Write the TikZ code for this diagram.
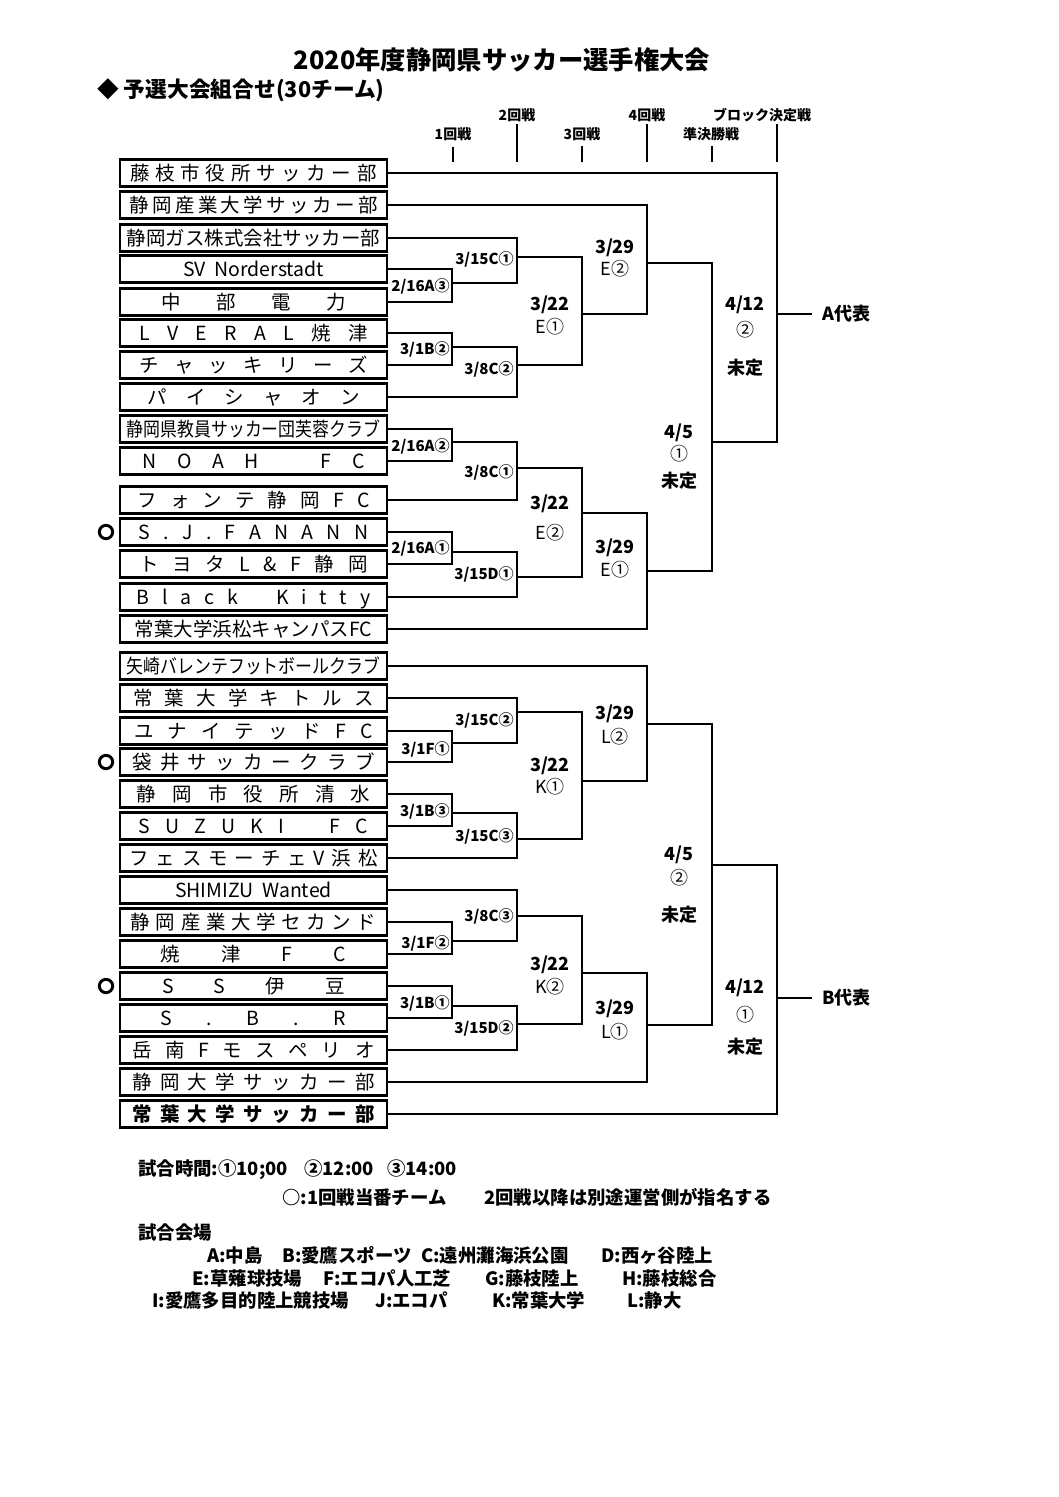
\documentclass[tikz,border=0pt]{standalone}
\usepackage{fontspec}
\usepackage{graphicx}
\setmainfont{Noto Sans CJK JP}
\newcommand\fsz[1]{\fontsize{#1}{#1}\selectfont}
\ExplSyntaxOn
\NewDocumentCommand \spreadtxt { m m }
  { \makebox [ #1 ] [ s ] { \tl_map_inline:nn { #2 } { ##1 \hfill } \unskip } }
\ExplSyntaxOff
\tikzset{
  team/.style={draw, line width=1.6pt, minimum width=200.25pt, minimum height=20.25pt,
    inner sep=0pt, font=\fsz{14.6pt}, text height=12.8pt, text depth=1.5pt},
  br/.style={line width=2.1pt},
  mlab/.style={font=\bfseries\fsz{11.3pt}, inner sep=0pt, anchor=east, text height=9pt, text depth=0.5pt},
  rlab/.style={font=\bfseries\fsz{13.5pt}, inner sep=0pt, text height=10.8pt, text depth=0.5pt},
  vlab/.style={font=\fsz{13.5pt}, inner sep=0pt, text height=10.8pt, text depth=0.5pt},
  hlab/.style={font=\bfseries\fsz{10.5pt}, inner sep=0pt, text height=8.4pt, text depth=0.4pt},
  tickthin/.style={line width=0.8pt},
  tickthick/.style={line width=1.6pt},
  foot/.style={font=\bfseries\fsz{13.8pt}, inner sep=0pt, anchor=west, text height=11pt, text depth=0.5pt},
  duty/.style={circle, draw, line width=2.2pt, minimum size=10pt, inner sep=0pt},
}
\begin{document}
\begin{tikzpicture}[x=0.75pt,y=-0.75pt]
\fill[white] (0,0) rectangle (1058,1497);
\useasboundingbox (0,0) rectangle (1058,1497);

% ---- titles
\node[font=\bfseries\fsz{19pt}, inner sep=0pt] (title) at (502,60) {2020年度静岡県サッカー選手権大会};
\node[font=\bfseries\fsz{16.3pt}, inner sep=0pt, anchor=west] (subtitle) at (97,90) {◆ 予選大会組合せ(30チーム)};

% ---- round headers
\node[hlab] (h2) at (517,115) {2回戦};
\node[hlab] (h4) at (647,115) {4回戦};
\node[hlab] (hb) at (762,115) {ブロック決定戦};
\node[hlab] (h1) at (453,134) {1回戦};
\node[hlab] (h3) at (582,134) {3回戦};
\node[hlab] (hs) at (711,134) {準決勝戦};
\coordinate (k1a) at (453,147); \coordinate (k1b) at (453,162);
\coordinate (k2a) at (517,124); \coordinate (k2b) at (517,162);
\coordinate (k3a) at (582,146); \coordinate (k3b) at (582,162);
\coordinate (k4a) at (647,124); \coordinate (k4b) at (647,162);
\coordinate (k5a) at (712,146); \coordinate (k5b) at (712,162);
\coordinate (k6a) at (777,124); \coordinate (k6b) at (777,162);
\draw[tickthin] (k1a) -- (k1b);
\draw[tickthick] (k2a) -- (k2b);
\draw[tickthin] (k3a) -- (k3b);
\draw[tickthick] (k4a) -- (k4b);
\draw[tickthin] (k5a) -- (k5b);
\draw[tickthin] (k6a) -- (k6b);

% ---- teams
\node[team] (t1) at (253.5,173) {\spreadtxt{184.5pt}{藤枝市役所サッカー部}};
\node[team] (t2) at (253.5,205) {\spreadtxt{186pt}{静岡産業大学サッカー部}};
\node[team] (t3) at (253.5,238) {静岡ガス株式会社サッカー部};
\node[team] (t4) at (253.5,269) {SV\ \ Norderstadt};
\node[team] (t5) at (253.5,302) {\spreadtxt{138pt}{中部電力}};
\node[team] (t6) at (253.5,333) {\spreadtxt{171pt}{LVERAL焼津}};
\node[team] (t7) at (253.5,365) {\spreadtxt{171pt}{チャッキリーズ}};
\node[team] (t8) at (253.5,397) {\spreadtxt{159pt}{パイシャオン}};
\node[team] (t9) at (253.5,429) {\resizebox{190pt}{\height}{静岡県教員サッカー団芙蓉クラブ}};
\node[team] (t10) at (253.5,461) {\spreadtxt{166.5pt}{NOAH{\hfill}FC}};
\node[team] (t11) at (253.5,500) {\spreadtxt{174pt}{フォンテ静岡FC}};
\node[team] (t12) at (253.5,532) {\spreadtxt{172.5pt}{S.J.FANANN}};
\node[team] (t13) at (253.5,564) {\spreadtxt{171pt}{トヨタL\&F静岡}};
\node[team] (t14) at (253.5,597) {\spreadtxt{175pt}{Black{\hfill}Kitty}};
\node[team] (t15) at (253.5,629) {常葉大学浜松キャンパスFC};
\node[team] (t16) at (253.5,666) {\resizebox{190pt}{\height}{矢崎バレンテフットボールクラブ}};
\node[team] (t17) at (253.5,698) {\spreadtxt{180pt}{常葉大学キトルス}};
\node[team] (t18) at (253.5,731) {\spreadtxt{179pt}{ユナイテッドFC}};
\node[team] (t19) at (253.5,762) {\spreadtxt{182pt}{袋井サッカークラブ}};
\node[team] (t20) at (253.5,794) {\spreadtxt{175pt}{静岡市役所清水}};
\node[team] (t21) at (253.5,826) {\spreadtxt{172pt}{SUZUKI{\hfill}FC}};
\node[team] (t22) at (253.5,858) {\spreadtxt{186pt}{フェスモーチェV浜松}};
\node[team] (t23) at (253.5,890) {SHIMIZU\ \ Wanted};
\node[team] (t24) at (253.5,922) {\spreadtxt{184pt}{静岡産業大学セカンド}};
\node[team] (t25) at (253.5,954) {\spreadtxt{139pt}{焼津FC}};
\node[team] (t26) at (253.5,986) {\spreadtxt{137pt}{SS伊豆}};
\node[team] (t27) at (253.5,1018) {\spreadtxt{139pt}{S.B.R}};
\node[team] (t28) at (253.5,1050) {\spreadtxt{181.5pt}{岳南Fモスペリオ}};
\node[team] (t29) at (253.5,1082) {\spreadtxt{182pt}{静岡大学サッカー部}};
\node[team, font=\bfseries\fsz{14.6pt}] (t30) at (253.5,1114) {\spreadtxt{182pt}{常葉大学サッカー部}};

% ---- duty team markers
\node[duty] (o1) at (106,532) {};
\node[duty] (o2) at (106,762) {};
\node[duty] (o3) at (106,986) {};

% ---- match points, upper block
\coordinate (mA1) at (452,283);
\coordinate (mA2) at (517,257);
\coordinate (mA3) at (452,347);
\coordinate (mA4) at (517,365);
\coordinate (mA5) at (582,314);
\coordinate (mA6) at (647,263);
\coordinate (mB1) at (452,442);
\coordinate (mB2) at (517,468);
\coordinate (mB3) at (452,552);
\coordinate (mB4) at (517,577);
\coordinate (mB5) at (582,513);
\coordinate (mB6) at (647,571);
\coordinate (mS1) at (712,442);
\coordinate (mF1) at (777,314);
\coordinate (aend) at (812,314);

\draw[br] (t4.east) -| (mA1);  \draw[br] (t5.east) -| (mA1);
\draw[br] (t3.east) -| (mA2);  \draw[br] (mA1) -| (mA2);
\draw[br] (t6.east) -| (mA3);  \draw[br] (t7.east) -| (mA3);
\draw[br] (mA3) -| (mA4);      \draw[br] (t8.east) -| (mA4);
\draw[br] (mA2) -| (mA5);      \draw[br] (mA4) -| (mA5);
\draw[br] (t2.east) -| (mA6);  \draw[br] (mA5) -| (mA6);
\draw[br] (t9.east) -| (mB1);  \draw[br] (t10.east) -| (mB1);
\draw[br] (mB1) -| (mB2);      \draw[br] (t11.east) -| (mB2);
\draw[br] (t12.east) -| (mB3); \draw[br] (t13.east) -| (mB3);
\draw[br] (mB3) -| (mB4);      \draw[br] (t14.east) -| (mB4);
\draw[br] (mB2) -| (mB5);      \draw[br] (mB4) -| (mB5);
\draw[br] (mB5) -| (mB6);      \draw[br] (t15.east) -| (mB6);
\draw[br] (mA6) -| (mS1);      \draw[br] (mB6) -| (mS1);
\draw[br] (t1.east) -| (mF1);  \draw[br] (mS1) -| (mF1);
\draw[br] (mF1) -- (aend);

% ---- match points, lower block
\coordinate (mC1) at (452,743);
\coordinate (mC2) at (517,712);
\coordinate (mC3) at (452,813);
\coordinate (mC4) at (517,839);
\coordinate (mC5) at (582,781);
\coordinate (mC6) at (647,724);
\coordinate (mD1) at (452,941);
\coordinate (mD2) at (517,916);
\coordinate (mD3) at (452,1006);
\coordinate (mD4) at (517,1024);
\coordinate (mD5) at (582,973);
\coordinate (mD6) at (647,1025);
\coordinate (mS2) at (712,865);
\coordinate (mF2) at (777,998);
\coordinate (bend) at (812,998);

\draw[br] (t18.east) -| (mC1); \draw[br] (t19.east) -| (mC1);
\draw[br] (t17.east) -| (mC2); \draw[br] (mC1) -| (mC2);
\draw[br] (t20.east) -| (mC3); \draw[br] (t21.east) -| (mC3);
\draw[br] (mC3) -| (mC4);      \draw[br] (t22.east) -| (mC4);
\draw[br] (mC2) -| (mC5);      \draw[br] (mC4) -| (mC5);
\draw[br] (t16.east) -| (mC6); \draw[br] (mC5) -| (mC6);
\draw[br] (t24.east) -| (mD1); \draw[br] (t25.east) -| (mD1);
\draw[br] (t23.east) -| (mD2); \draw[br] (mD1) -| (mD2);
\draw[br] (t26.east) -| (mD3); \draw[br] (t27.east) -| (mD3);
\draw[br] (mD3) -| (mD4);      \draw[br] (t28.east) -| (mD4);
\draw[br] (mD2) -| (mD5);      \draw[br] (mD4) -| (mD5);
\draw[br] (mD5) -| (mD6);      \draw[br] (t29.east) -| (mD6);
\draw[br] (mC6) -| (mS2);      \draw[br] (mD6) -| (mS2);
\draw[br] (mS2) -| (mF2);      \draw[br] (t30.east) -| (mF2);
\draw[br] (mF2) -- (bend);

% ---- match labels, upper block
\node[mlab] (lA1) at (450,286) {2/16A③};
\node[mlab] (lA2) at (514,259) {3/15C①};
\node[mlab] (lA3) at (450,349) {3/1B②};
\node[mlab] (lA4) at (514,369) {3/8C②};
\node[rlab] (lA5a) at (550,304) {3/22};
\node[vlab] (lA5b) at (550,327) {E①};
\node[rlab] (lA6a) at (615,247) {3/29};
\node[vlab] (lA6b) at (615,269) {E②};
\node[mlab] (lB1) at (450,446) {2/16A②};
\node[mlab] (lB2) at (514,472) {3/8C①};
\node[mlab] (lB3) at (450,548) {2/16A①};
\node[mlab] (lB4) at (514,574) {3/15D①};
\node[rlab] (lB5a) at (550,503) {3/22};
\node[vlab] (lB5b) at (550,533) {E②};
\node[rlab] (lB6a) at (615,547) {3/29};
\node[vlab] (lB6b) at (615,570) {E①};
\node[rlab] (lS1a) at (679,432) {4/5};
\node[vlab] (lS1b) at (679,454) {①};
\node[rlab] (lS1c) at (679,481) {未定};
\node[rlab] (lF1a) at (745,304) {4/12};
\node[vlab] (lF1b) at (745,330) {②};
\node[rlab] (lF1c) at (745,368) {未定};
\node[rlab, anchor=west] (arep) at (822,314) {A代表};

% ---- match labels, lower block
\node[mlab] (lC2) at (514,720) {3/15C②};
\node[mlab] (lC1) at (450,749) {3/1F①};
\node[mlab] (lC3) at (450,811) {3/1B③};
\node[mlab] (lC4) at (514,836) {3/15C③};
\node[rlab] (lC5a) at (550,765) {3/22};
\node[vlab] (lC5b) at (550,787) {K①};
\node[rlab] (lC6a) at (615,713) {3/29};
\node[vlab] (lC6b) at (615,737) {L②};
\node[mlab] (lD2) at (514,916) {3/8C③};
\node[mlab] (lD1) at (450,943) {3/1F②};
\node[mlab] (lD3) at (450,1003) {3/1B①};
\node[mlab] (lD4) at (514,1028) {3/15D②};
\node[rlab] (lD5a) at (550,964) {3/22};
\node[vlab] (lD5b) at (550,987) {K②};
\node[rlab] (lD6a) at (615,1008) {3/29};
\node[vlab] (lD6b) at (615,1032) {L①};
\node[rlab] (lS2a) at (679,854) {4/5};
\node[vlab] (lS2b) at (679,878) {②};
\node[rlab] (lS2c) at (679,915) {未定};
\node[rlab] (lF2a) at (745,987) {4/12};
\node[vlab] (lF2b) at (745,1015) {①};
\node[rlab] (lF2c) at (745,1047) {未定};
\node[rlab, anchor=west] (brep) at (822,998) {B代表};

% ---- footer
\node[foot] (f1) at (138,1168) {\makebox[124.5pt][l]{試合時間:①10;00}\makebox[62.25pt][l]{②12:00}③14:00};
\node[foot] (f2) at (282,1197) {\makebox[151.5pt][l]{○:1回戦当番チーム}2回戦以降は別途運営側が指名する};
\node[foot] (f3) at (138,1232) {試合会場};
\node[foot] (f4) at (207,1255) {\makebox[56.25pt][l]{A:中島}\makebox[104.25pt][l]{B:愛鷹スポーツ}\makebox[135pt][l]{C:遠州灘海浜公園}D:西ヶ谷陸上};
\node[foot] (f5) at (192,1278) {\makebox[98.25pt][l]{E:草薙球技場}\makebox[121.5pt][l]{F:エコパ人工芝}\makebox[102.75pt][l]{G:藤枝陸上}H:藤枝総合};
\node[foot] (f6) at (152,1300) {\makebox[167.25pt][l]{I:愛鷹多目的陸上競技場}\makebox[87.75pt][l]{J:エコパ}\makebox[101.25pt][l]{K:常葉大学}L:静大};
\end{tikzpicture}
\end{document}
